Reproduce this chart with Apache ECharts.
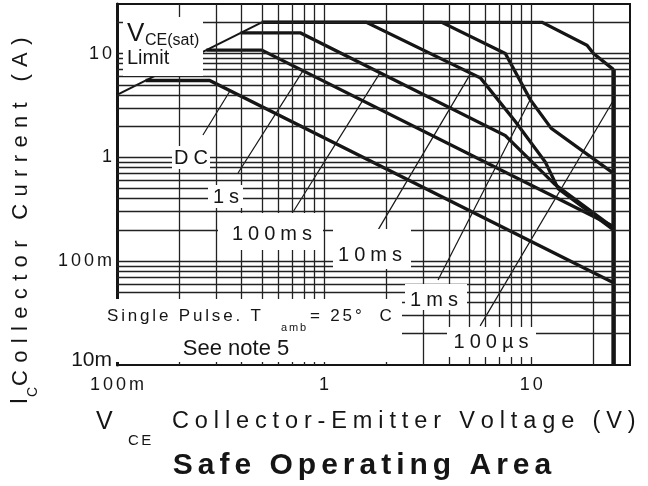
<!DOCTYPE html>
<html>
<head>
<meta charset="utf-8">
<script src="https://cdn.jsdelivr.net/npm/echarts@6/dist/echarts.min.js"></script>
<style>
html, body { margin: 0; padding: 0; background: #fff; }
#chart { width: 648px; height: 486px; }
</style>
</head>
<body>
<div id="chart"></div>
<script>
// SOA curves, points are [Vce (V), Ic (A)]
const vceSatLimit = [[0.1, 4], [0.5, 20]];
const curveDC = [[0.1375, 5.5], [0.28, 5.5], [25, 0.062]];
const curve1s = [[0.27, 10.8], [0.5, 10.8], [25, 0.216]];
const curve100ms = [[0.395, 15.8], [0.77, 15.8], [7.5, 1.62], [13, 0.55], [25, 0.21]];
const curve10ms = [[0.5, 20], [1.6, 20], [5.7, 5.8], [8.4, 2.2], [11.7, 0.9], [13.5, 0.5], [25, 0.2]];
const curve1ms = [[0.5, 20], [3.7, 20], [7.5, 10], [9.9, 3.6], [12.5, 1.9], [25, 0.7]];
const curve100us = [[0.5, 20], [11.3, 20], [18.6, 12], [20, 10], [25, 7]];
const vceoLimit = [[25, 7], [25, 0.01]];

// thin leader lines from the labels to their curves
const leaderDC = [[0.26, 1.64], [0.351, 4.36]];
const leader1s = [[0.384, 0.707], [0.79, 6.8]];
const leader100ms = [[0.708, 0.298], [1.865, 6.54]];
const leader10ms = [[1.823, 0.2], [5.07, 6.3]];
const leader1ms = [[3.55, 0.066], [9.9, 3.6]];
const leader100us = [[5.67, 0.0238], [25, 3.57]];

// log grid
const gridX = [0.2, 0.3, 0.4, 0.5, 0.6, 0.7, 0.8, 0.9, 1, 2, 3, 4, 5, 6, 7, 8, 9, 10, 20];
const gridY = [0.02, 0.03, 0.04, 0.05, 0.06, 0.07, 0.08, 0.09, 0.1,
  0.2, 0.3, 0.4, 0.5, 0.6, 0.7, 0.8, 0.9, 1, 2, 3, 4, 5, 6, 7, 8, 9, 10, 20];

// tick labels
const xTickValues = [0.1, 1, 10];
const xTickLabels = ['100m', '1', '10'];
const yTickValues = [0.01, 0.1, 1, 10];
const yTickLabels = ['10m', '100m', '1', '10'];

const INK = '#151515';
const FONT = '"Liberation Sans", Arial, Helvetica, sans-serif';

// letter spacing by inserting narrow spaces
function spaced(s, gap) {
	return s.split('').join(gap);
}

function findTick(v, values) {
	for (let i = 0; i < values.length; i++) {
		if (Math.abs(Math.log10(v) - Math.log10(values[i])) < 1e-6) return i;
	}
	return -1;
}

function curve(name, data, width) {
	return {
		name: name,
		type: 'line',
		data: data,
		symbol: 'none',
		z: 3,
		silent: true,
		lineStyle: { color: INK, width: width, cap: 'butt', join: 'miter' }
	};
}

function box(x, y, w, h) {
	return { type: 'rect', z: 50, silent: true, shape: { x: x, y: y, width: w, height: h }, style: { fill: '#fff' } };
}

function txt(text, x, y, size, align, more) {
	const el = {
		type: 'text', x: x, y: y, z: 60, silent: true,
		style: {
			text: text, fill: INK, fontSize: size, fontFamily: FONT,
			align: align || 'center', textAlign: align || 'center',
			verticalAlign: 'middle', textVerticalAlign: 'middle'
		}
	};
	return Object.assign(el, more || {});
}

const G4 = '\u2005';
const G6 = '\u2006';
const G3 = '\u2004';

const chart = echarts.init(document.getElementById('chart'));

const option = {
	animation: false,
	backgroundColor: '#fff',
	grid: {
		left: 117, right: 18, top: 4, bottom: 121,
		show: true, borderColor: INK, borderWidth: 2
	},
	xAxis: {
		type: 'log', logBase: 10, min: 0.1, max: 30,
		axisLine: { show: true, lineStyle: { color: INK, width: 2 } },
		axisTick: { show: false },
		splitLine: { show: false },
		axisLabel: {
			margin: 11, color: INK, fontSize: 18, fontFamily: FONT,
			formatter: function (v) {
				const i = findTick(v, xTickValues);
				return i < 0 ? '' : spaced(xTickLabels[i], G6);
			}
		}
	},
	yAxis: {
		type: 'log', logBase: 10, min: 0.01, max: 30,
		axisLine: { show: true, lineStyle: { color: INK, width: 3 } },
		axisTick: { show: false },
		splitLine: { show: false },
		axisLabel: {
			margin: 5, color: INK, fontSize: 18, fontFamily: FONT,
			formatter: function (v) {
				const i = findTick(v, yTickValues);
				if (i < 0) return '';
				if (i === 0) return '{s|' + yTickLabels[i] + '}';
				return spaced(yTickLabels[i], G6);
			},
			rich: {
				s: { fontSize: 21, fontFamily: FONT, color: INK, padding: [0, 0, 10, 0] }
			}
		}
	},
	series: [
		{
			name: 'grid',
			type: 'line',
			data: [[1, 1]],
			symbol: 'none',
			z: 1,
			silent: true,
			lineStyle: { opacity: 0 },
			markLine: {
				silent: true,
				symbol: ['none', 'none'],
				label: { show: false },
				lineStyle: { color: '#222', width: 1.3, type: 'solid' },
				data: gridX.map(function (v) { return { xAxis: v }; })
					.concat(gridY.map(function (v) { return { yAxis: v }; }))
			}
		},
		curve('VCE(sat) limit', vceSatLimit, 2),
		curve('DC', curveDC, 3.3),
		curve('1s', curve1s, 3.3),
		curve('100ms', curve100ms, 3.3),
		curve('10ms', curve10ms, 3.3),
		curve('1ms', curve1ms, 3.3),
		curve('100us', curve100us, 3.3),
		curve('VCEO limit', vceoLimit, 4.5),
		curve('leader DC', leaderDC, 1.2),
		curve('leader 1s', leader1s, 1.2),
		curve('leader 100ms', leader100ms, 1.2),
		curve('leader 10ms', leader10ms, 1.2),
		curve('leader 1ms', leader1ms, 1.2),
		curve('leader 100us', leader100us, 1.2)
	],
	graphic: {
		elements: [
			// white label boxes cutting the grid
			box(123, 17, 80, 59),
			box(172, 146, 38, 23),
			box(208, 185, 35, 23),
			box(218, 213, 105, 37),
			box(333, 229, 78, 40),
			box(405, 284, 62, 26),
			box(114, 299, 288, 63),
			box(447, 327, 89, 30),

			txt('V', 127, 34, 26, 'left'),
			txt('CE(sat)', 145, 41, 16, 'left'),
			txt('Limit', 127, 58, 20, 'left'),

			txt(spaced('DC', G4), 191, 158, 20),
			txt(spaced('1s', G4), 226, 197, 20),
			txt(spaced('100ms', G4), 272, 234, 20),
			txt(spaced('10ms', G4), 370, 255, 20),
			txt(spaced('1ms', G4), 434, 300, 20),
			txt(spaced('100µs', G4), 491, 342, 20),

			txt(spaced('Single Pulse. T', G6), 107, 316, 17, 'left'),
			txt(spaced('amb', G6), 281, 328, 11, 'left'),
			txt(spaced('= 25°  C', G6), 310, 316, 17, 'left'),
			txt('See note 5', 236, 349, 22),

			// y axis title, reads bottom to top
			txt('I', 21, 401, 23, 'center', { rotation: Math.PI / 2 }),
			txt('C', 33, 392, 14, 'center', { rotation: Math.PI / 2 }),
			txt(spaced('Collector Current (A)', G3), 21, 386, 22, 'left', { rotation: Math.PI / 2 }),

			// x axis title
			txt('V', 96, 422, 25, 'left'),
			txt(spaced('CE', G6), 128, 441, 15, 'left'),
			txt(spaced('Collector-Emitter Voltage (V)', G4), 172, 422, 23.5, 'left'),

			// chart title
			{
				type: 'text', x: 362, y: 466, z: 60, silent: true,
				style: {
					text: spaced('Safe Operating Area', G6), fill: INK,
					fontSize: 30, fontWeight: 'bold', fontFamily: FONT,
					align: 'center', textAlign: 'center',
					verticalAlign: 'middle', textVerticalAlign: 'middle'
				}
			}
		]
	}
};

chart.setOption(option);
</script>
</body>
</html>
